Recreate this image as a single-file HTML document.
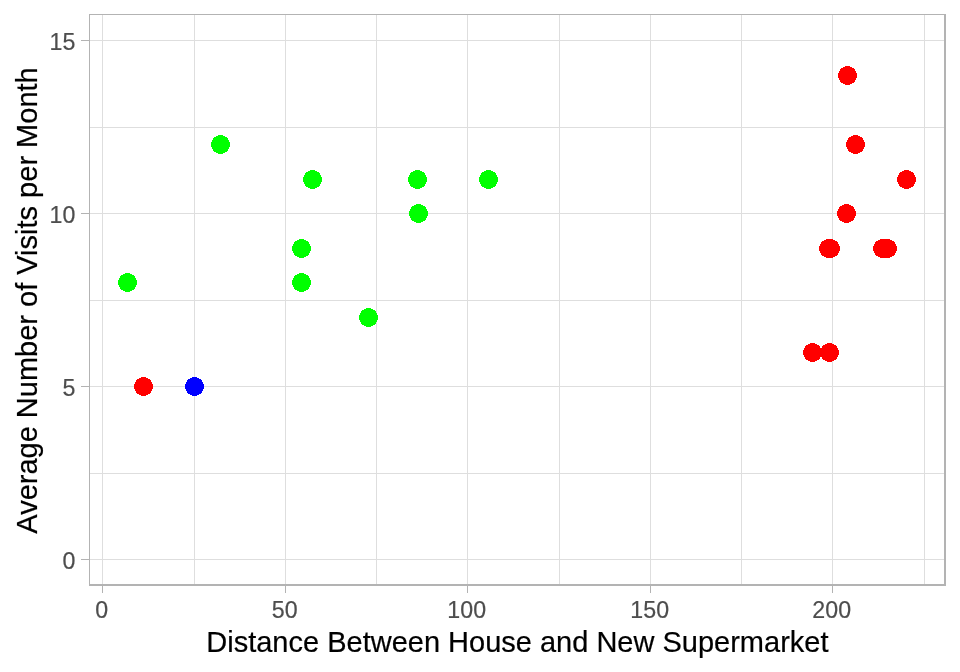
<!DOCTYPE html>
<html lang="en">
<head>
<meta charset="utf-8">
<title>Scatter plot</title>
<style>
html,body{margin:0;padding:0;background:#fff;}
body{width:960px;height:672px;overflow:hidden;}
svg{display:block;}
text{font-family:"Liberation Sans",Arial,sans-serif;}
.at{font-size:23.2px;fill:#4D4D4D;stroke:#4D4D4D;stroke-width:0.2px;}
.ti{font-size:29px;fill:#000;stroke:#000;stroke-width:0.2px;}
</style>
</head>
<body>
<svg width="960" height="672" viewBox="0 0 960 672">
<rect x="0" y="0" width="960" height="672" fill="#fff"/>
<g shape-rendering="crispEdges">
<rect x="102" y="15" width="1" height="569" fill="#DEDEDE"/>
<rect x="194" y="15" width="1" height="569" fill="#DEDEDE"/>
<rect x="285" y="15" width="1" height="569" fill="#DEDEDE"/>
<rect x="376" y="15" width="1" height="569" fill="#DEDEDE"/>
<rect x="467" y="15" width="1" height="569" fill="#DEDEDE"/>
<rect x="559" y="15" width="1" height="569" fill="#DEDEDE"/>
<rect x="650" y="15" width="1" height="569" fill="#DEDEDE"/>
<rect x="741" y="15" width="1" height="569" fill="#DEDEDE"/>
<rect x="832" y="15" width="1" height="569" fill="#DEDEDE"/>
<rect x="924" y="15" width="1" height="569" fill="#DEDEDE"/>
<rect x="90" y="40" width="854" height="1" fill="#DEDEDE"/>
<rect x="90" y="127" width="854" height="1" fill="#DEDEDE"/>
<rect x="90" y="213" width="854" height="1" fill="#DEDEDE"/>
<rect x="90" y="300" width="854" height="1" fill="#DEDEDE"/>
<rect x="90" y="386" width="854" height="1" fill="#DEDEDE"/>
<rect x="90" y="473" width="854" height="1" fill="#DEDEDE"/>
<rect x="90" y="559" width="854" height="1" fill="#DEDEDE"/>
<circle cx="127.5" cy="282.5" r="9.5" fill="#00FF00"/>
<circle cx="220.5" cy="144.5" r="9.5" fill="#00FF00"/>
<circle cx="301.5" cy="248.5" r="9.5" fill="#00FF00"/>
<circle cx="301.5" cy="282.5" r="9.5" fill="#00FF00"/>
<circle cx="312.5" cy="179.5" r="9.5" fill="#00FF00"/>
<circle cx="368.5" cy="317.5" r="9.5" fill="#00FF00"/>
<circle cx="417.5" cy="179.5" r="9.5" fill="#00FF00"/>
<circle cx="418.5" cy="213.5" r="9.5" fill="#00FF00"/>
<circle cx="488.5" cy="179.5" r="9.5" fill="#00FF00"/>
<circle cx="143.5" cy="386.5" r="9.5" fill="#FF0000"/>
<circle cx="194.5" cy="386.5" r="9.5" fill="#0000FF"/>
<circle cx="812.5" cy="352.5" r="9.5" fill="#FF0000"/>
<circle cx="829.5" cy="352.5" r="9.5" fill="#FF0000"/>
<circle cx="828.5" cy="248.5" r="9.5" fill="#FF0000"/>
<circle cx="830.5" cy="248.5" r="9.5" fill="#FF0000"/>
<circle cx="847.5" cy="75.5" r="9.5" fill="#FF0000"/>
<circle cx="846.5" cy="213.5" r="9.5" fill="#FF0000"/>
<circle cx="855.5" cy="144.5" r="9.5" fill="#FF0000"/>
<circle cx="882.5" cy="248.5" r="9.5" fill="#FF0000"/>
<circle cx="887.5" cy="248.5" r="9.5" fill="#FF0000"/>
<circle cx="906.5" cy="179.5" r="9.5" fill="#FF0000"/>
<rect x="89" y="14" width="857" height="1" fill="#B3B3B3"/>
<rect x="89" y="14" width="1" height="572" fill="#B3B3B3"/>
<rect x="944" y="14" width="2" height="572" fill="#B3B3B3"/>
<rect x="89" y="584" width="857" height="2" fill="#B3B3B3"/>
<rect x="102" y="586" width="1" height="7" fill="#B3B3B3"/>
<rect x="285" y="586" width="1" height="7" fill="#B3B3B3"/>
<rect x="467" y="586" width="1" height="7" fill="#B3B3B3"/>
<rect x="650" y="586" width="1" height="7" fill="#B3B3B3"/>
<rect x="832" y="586" width="1" height="7" fill="#B3B3B3"/>
<rect x="81" y="559" width="8" height="1" fill="#B3B3B3"/>
<rect x="81" y="386" width="8" height="1" fill="#B3B3B3"/>
<rect x="81" y="213" width="8" height="1" fill="#B3B3B3"/>
<rect x="81" y="40" width="8" height="1" fill="#B3B3B3"/>
</g>
<text class="at" x="75.3" y="569.3" text-anchor="end">0</text>
<text class="at" x="75.3" y="396.3" text-anchor="end">5</text>
<text class="at" x="75.3" y="223.3" text-anchor="end">10</text>
<text class="at" x="75.3" y="50.3" text-anchor="end">15</text>
<text class="at" x="101.7" y="617.8" text-anchor="middle">0</text>
<text class="at" x="284.7" y="617.8" text-anchor="middle">50</text>
<text class="at" x="466.7" y="617.8" text-anchor="middle">100</text>
<text class="at" x="649.7" y="617.8" text-anchor="middle">150</text>
<text class="at" x="831.7" y="617.8" text-anchor="middle">200</text>
<text class="ti" x="517.4" y="652" text-anchor="middle">Distance Between House and New Supermarket</text>
<text class="ti" transform="translate(37,300.5) rotate(-90)" text-anchor="middle">Average Number of Visits per Month</text>
</svg>
</body>
</html>
